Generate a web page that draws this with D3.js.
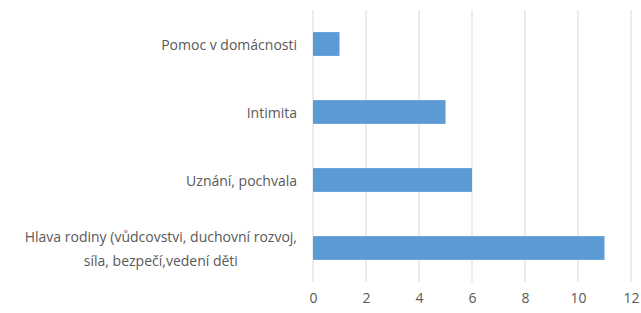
<!DOCTYPE html>
<html>
<head>
<meta charset="utf-8">
<script src="https://cdn.jsdelivr.net/npm/d3@7"></script>
<style>
  body { margin: 0; background: #fff; }
  text { font-family: "Open Sans", "Liberation Sans", sans-serif; fill: #595959; }
</style>
</head>
<body>
<script>
const categories = [
  ["Pomoc v domácnosti"],
  ["Intimita"],
  ["Uznání, pochvala"],
  ["Hlava rodiny (vůdcovstvi, duchovní rozvoj,", "síla, bezpečí,vedení děti"]
];
const values = [1, 5, 6, 11];
const ticks = [0, 2, 4, 6, 8, 10, 12];

const width = 641, height = 313;
const margin = {top: 10, right: 10, bottom: 31, left: 313};

const svg = d3.select("body")
  .append("svg")
  .attr("width", width)
  .attr("height", height);

const x = d3.scaleLinear()
  .domain([0, 12])
  .range([margin.left, 631]);

const y = d3.scaleBand()
  .domain(d3.range(categories.length))
  .range([margin.top, height - margin.bottom])
  .paddingInner(0.65)
  .paddingOuter(0.325);

// gridlines
svg.append("g")
  .selectAll("line")
  .data(ticks)
  .enter()
  .append("line")
  .attr("x1", d => x(d))
  .attr("x2", d => x(d))
  .attr("y1", margin.top)
  .attr("y2", height - margin.bottom)
  .attr("stroke", "#d9d9d9")
  .attr("stroke-width", 1);

// bars
svg.append("g")
  .selectAll("rect")
  .data(values)
  .enter()
  .append("rect")
  .attr("x", x(0))
  .attr("y", (d, i) => y(i))
  .attr("width", d => x(d) - x(0))
  .attr("height", y.bandwidth())
  .attr("fill", "#5b9bd5");

// x tick labels
const xAxis = svg.append("g")
  .attr("transform", "translate(0," + (height - margin.bottom) + ")")
  .call(d3.axisBottom(x).tickValues(ticks).tickSize(0).tickPadding(11));
xAxis.select(".domain").remove();
xAxis.selectAll("text")
  .attr("font-size", 14)
  .style("font-family", "\"Open Sans\", \"Liberation Sans\", sans-serif")
  .attr("fill", "#595959");

// category labels
const labels = svg.append("g")
  .selectAll("text")
  .data(categories)
  .enter()
  .append("text")
  .attr("font-size", 14)
  .attr("text-anchor", "middle")
  .attr("dominant-baseline", "central");

labels.each(function(lines, i) {
  const t = d3.select(this);
  const cy = y(i) + y.bandwidth() / 2;
  lines.forEach((ln, j) => {
    t.append("tspan")
      .attr("y", cy + (j - (lines.length - 1) / 2) * 24)
      .text(ln);
  });
});

// right-align the block, centre lines within it
labels.each(function() {
  const t = d3.select(this);
  let w = 0;
  t.selectAll("tspan").each(function() {
    w = Math.max(w, this.getComputedTextLength());
  });
  t.selectAll("tspan").attr("x", 297 - w / 2);
});
</script>
</body>
</html>
